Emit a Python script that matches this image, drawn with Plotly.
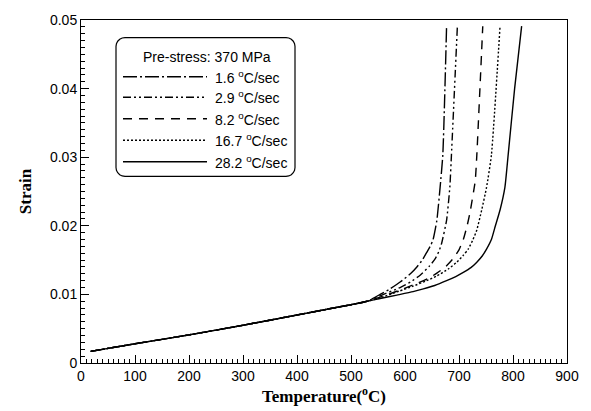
import math
import plotly.graph_objects as go

# ---------------- data ----------------
base_T = [18, 100, 200, 300, 400, 460, 500, 530]
base_S = [0.0017, 0.0028, 0.0041, 0.0055, 0.0070, 0.0079, 0.0085, 0.0090]

t_16 = [554, 570, 591, 610, 622, 632, 640, 648, 652, 659, 665, 670, 677]
s_16 = [0.0100, 0.0107, 0.0118, 0.0130, 0.0140, 0.0150, 0.0161, 0.0172, 0.0180, 0.0208, 0.0256, 0.0303, 0.0491]

t_29 = [554, 591, 610, 628, 645, 656, 663, 668, 677, 683, 686, 697]
s_29 = [0.0098, 0.0110, 0.0118, 0.0128, 0.0141, 0.0152, 0.0163, 0.0175, 0.0208, 0.0256, 0.0303, 0.0491]

t_82 = [554, 590, 622, 645, 659, 676, 690, 700, 708, 715, 720, 730, 733, 744]
s_82 = [0.0096, 0.0106, 0.0116, 0.0124, 0.0131, 0.0141, 0.0153, 0.0165, 0.0180, 0.0200, 0.0218, 0.0265, 0.0303, 0.0491]

t_167 = [554, 590, 615, 640, 659, 680, 696, 708, 717, 726, 733, 742, 751, 760, 776]
s_167 = [0.0095, 0.0105, 0.0112, 0.0120, 0.0127, 0.0137, 0.0147, 0.0157, 0.0166, 0.0180, 0.0194, 0.0223, 0.0256, 0.0303, 0.0491]

t_282 = [554, 585, 615, 634, 655, 677, 694, 708, 722, 733, 743, 751, 760, 767, 776, 785, 791, 803, 816]
s_282 = [0.0094, 0.0099, 0.0104, 0.0108, 0.0113, 0.0120, 0.0126, 0.0132, 0.0139, 0.0147, 0.0156, 0.0166,
         0.0180, 0.0199, 0.0223, 0.0256, 0.0303, 0.0400, 0.0491]

series_names = ["1.6 <sup>o</sup>C/sec", "2.9 <sup>o</sup>C/sec", "8.2 <sup>o</sup>C/sec",
                "16.7 <sup>o</sup>C/sec", "28.2 <sup>o</sup>C/sec"]
series_T = [t_16, t_29, t_82, t_167, t_282]
series_S = [s_16, s_29, s_82, s_167, s_282]
dashes = ["14px,3px,2px,3px", "8px,3px,2px,3px,2px,3px", "9px,7px", "2px,2px", "solid"]

legend_title = "Pre-stress: 370 MPa"

# ---------------- figure ----------------
W, H = 591, 411
ML, MR, MT, MB = 81, 24, 12, 48
PW, PH = W - ML - MR, H - MT - MB


def px(x):
    return (x - ML) / PW


def py(y):
    return (H - MB - y) / PH


fig = go.Figure()
for name, T, S, d in zip(series_names, series_T, series_S, dashes):
    fig.add_trace(go.Scatter(
        x=base_T + T, y=base_S + S, mode="lines", name=name,
        line=dict(color="black", width=1.4, dash=d, shape="spline", smoothing=0.5),
        showlegend=False))

tickfont = dict(family="Liberation Sans, Arial, sans-serif", size=14, color="black")
titlefont = dict(family="Liberation Serif, Times New Roman, serif", size=17, color="black")

fig.update_xaxes(range=[0, 900], dtick=100, ticks="inside", ticklen=8, tickcolor="black",
                 showline=True, linecolor="black", mirror=True, showgrid=False,
                 tickfont=tickfont,
                 minor=dict(ticks="inside", ticklen=4, dtick=10, tickcolor="black"),
                 title=dict(text="<b>Temperature(<sup>o</sup>C)</b>", font=titlefont, standoff=2))
fig.update_yaxes(range=[0, 0.05], dtick=0.01, ticks="inside", ticklen=8, tickcolor="black",
                 showline=True, linecolor="black", mirror=True, showgrid=False,
                 tickfont=tickfont,
                 minor=dict(ticks="inside", ticklen=4, dtick=0.001, tickcolor="black"),
                 title=dict(text="<b>Strain</b>", font=titlefont, standoff=14))

# ---------------- legend box (drawn, rounded corners as short segments) ----------------
bx0, bx1, by0, by1 = 116, 295, 30, 172
rad = 9
corners = [(bx1 - rad, by0 + rad, -90, 0), (bx1 - rad, by1 - rad, 0, 90),
           (bx0 + rad, by1 - rad, 90, 180), (bx0 + rad, by0 + rad, 180, 270)]
pts = []
for cx, cy, a0, a1 in corners:
    for k in range(6):
        a = math.radians(a0 + (a1 - a0) * k / 5)
        pts.append((px(cx + rad * math.cos(a)), py(cy + rad * math.sin(a))))
path = "M " + " L ".join(f"{x:.5f},{y:.5f}" for x, y in pts) + " Z"
fig.add_shape(type="path", path=path, xref="paper", yref="paper",
              line=dict(color="black", width=1.2))

legfont = dict(family="Liberation Sans, Arial, sans-serif", size=14, color="black")
fig.add_annotation(x=px(207), y=py(50), xref="paper", yref="paper", text=legend_title,
                   showarrow=False, font=legfont, xanchor="center", yanchor="middle")
rows = [70, 91, 113, 135, 157]
for name, d, ry_ in zip(series_names, dashes, rows):
    fig.add_shape(type="line", xref="paper", yref="paper", x0=px(123), x1=px(207),
                  y0=py(ry_), y1=py(ry_), line=dict(color="black", width=1.4, dash=d))
    fig.add_annotation(x=px(213), y=py(ry_), xref="paper", yref="paper", text=name,
                       showarrow=False, font=legfont, xanchor="left", yanchor="middle")

fig.update_layout(width=W, height=H, margin=dict(l=ML, r=MR, t=MT, b=MB),
                  plot_bgcolor="white", paper_bgcolor="white", showlegend=False)

fig.write_html("out.html", config={"displayModeBar": False},
               post_script="document.body.style.margin='0';")
